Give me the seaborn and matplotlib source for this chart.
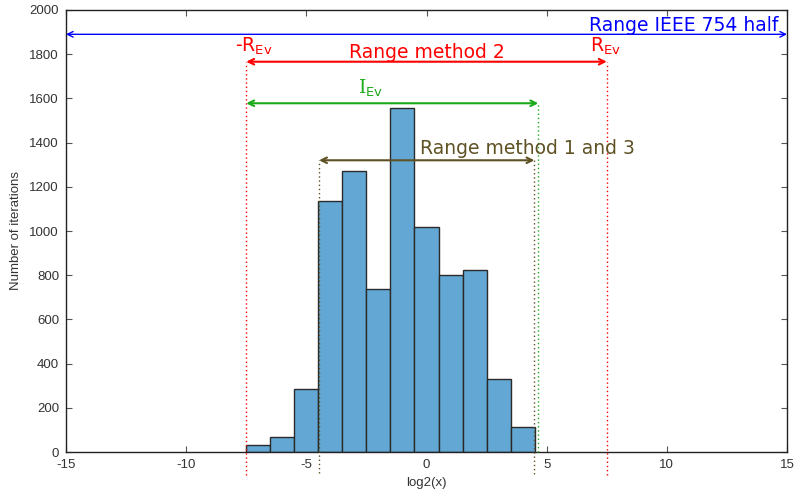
import numpy as np
import pandas as pd
import seaborn as sns
import matplotlib
matplotlib.use('Agg')
import matplotlib.pyplot as plt

#histogram data (bin centres of log2(x) and counts)
bin_centres = [-7, -6, -5, -4, -3, -2, -1, 0, 1, 2, 3, 4]
counts = [33, 68, 285, 1136, 1270, 738, 1558, 1018, 801, 822, 330, 112]

#range markers
ieee_half = (-15, 15)
r_ev = 7.5
i_ev = (-7.5, 4.65)
method13 = (-4.47, 4.49)

df = pd.DataFrame({'log2x': bin_centres, 'n': counts})

sns.set_style('ticks')
plt.rcParams['font.family'] = ['DejaVu Sans']
plt.rcParams['axes.unicode_minus'] = False
plt.rcParams['mathtext.fontset'] = 'custom'
plt.rcParams['mathtext.rm'] = 'DejaVu Serif'
plt.rcParams['mathtext.sf'] = 'DejaVu Sans'

fig = plt.figure(figsize=(7.94, 4.98), dpi=100)
ax = fig.add_axes([66/794, 46/498, 721/794, 442/498])

sns.histplot(data=df, x='log2x', weights='n', binwidth=1, binrange=(-7.5, 4.5),
             color='#63a8d5', edgecolor='#2a2a2a', linewidth=1, alpha=1, ax=ax, zorder=2)

ax.set_xlim(-15, 15)
ax.set_ylim(0, 2000)
ax.set_xticks(range(-15, 16, 5))
ax.set_yticks(range(0, 2001, 200))
ax.tick_params(direction='in', top=True, right=True, length=4, width=0.8,
               colors='#555555', labelcolor='#333333', pad=5)
for lab in ax.get_xticklabels() + ax.get_yticklabels():
    lab.set_fontfamily('Liberation Sans')
    lab.set_fontsize(9.5)
for s in ax.spines.values():
    s.set_visible(True)
    s.set_color('#222222')
    s.set_linewidth(1)
ax.set_xlabel('log2(x)', fontsize=9.5, family='Liberation Sans', color='#333333', labelpad=4)
ax.set_ylabel('Number of iterations', fontsize=9.5, family='Liberation Sans', color='#333333', labelpad=5)


def arrow(x0, x1, y, col, lw):
    ax.annotate('', xy=(x1, y), xytext=(x0, y), annotation_clip=False,
                arrowprops=dict(arrowstyle='<->', color=col, lw=lw,
                                shrinkA=0, shrinkB=0, mutation_scale=10), zorder=4)


def vdot(x, y0, y1, col):
    ax.plot([x, x], [y0, y1], ls=(0, (1, 2)), color=col, lw=1, clip_on=False, zorder=3)


red = '#ff0000'
green = '#1aaa1a'
olive = '#5e5124'
blue = '#0000ff'
fs = 13.5

#IEEE half
arrow(ieee_half[0], ieee_half[1], 1890, blue, 1)
ax.text(14.65, 1907, 'Range IEEE 754 half', color=blue, fontsize=fs, ha='right', va='baseline')

#method 2
vdot(-r_ev, -105, 1766, red)
vdot(r_ev, -105, 1766, red)
arrow(-r_ev, r_ev, 1766, red, 1.5)
ax.text(0, 1783, 'Range method 2', color=red, fontsize=fs, ha='center', va='baseline')
ax.text(-7.95, 1810, r'-R$_{\mathsf{Ev}}$', color=red, fontsize=fs, ha='left', va='baseline')
ax.text(6.8, 1810, r'R$_{\mathsf{Ev}}$', color=red, fontsize=fs, ha='left', va='baseline')

#I_Ev
vdot(i_ev[1], 0, 1578, green)
arrow(i_ev[0], i_ev[1], 1578, green, 1.5)
ax.text(-2.85, 1620, r'$\mathrm{I}_{\mathsf{Ev}}$', color=green, fontsize=fs, ha='left', va='baseline')

#method 1 and 3
vdot(method13[0], -95, 1320, olive)
vdot(method13[1], -100, 1320, olive)
arrow(method13[0], method13[1], 1320, olive, 1.5)
ax.text(-0.27, 1348, 'Range method 1 and 3', color=olive, fontsize=fs, ha='left', va='baseline')

plt.savefig('out.png', dpi=100)
